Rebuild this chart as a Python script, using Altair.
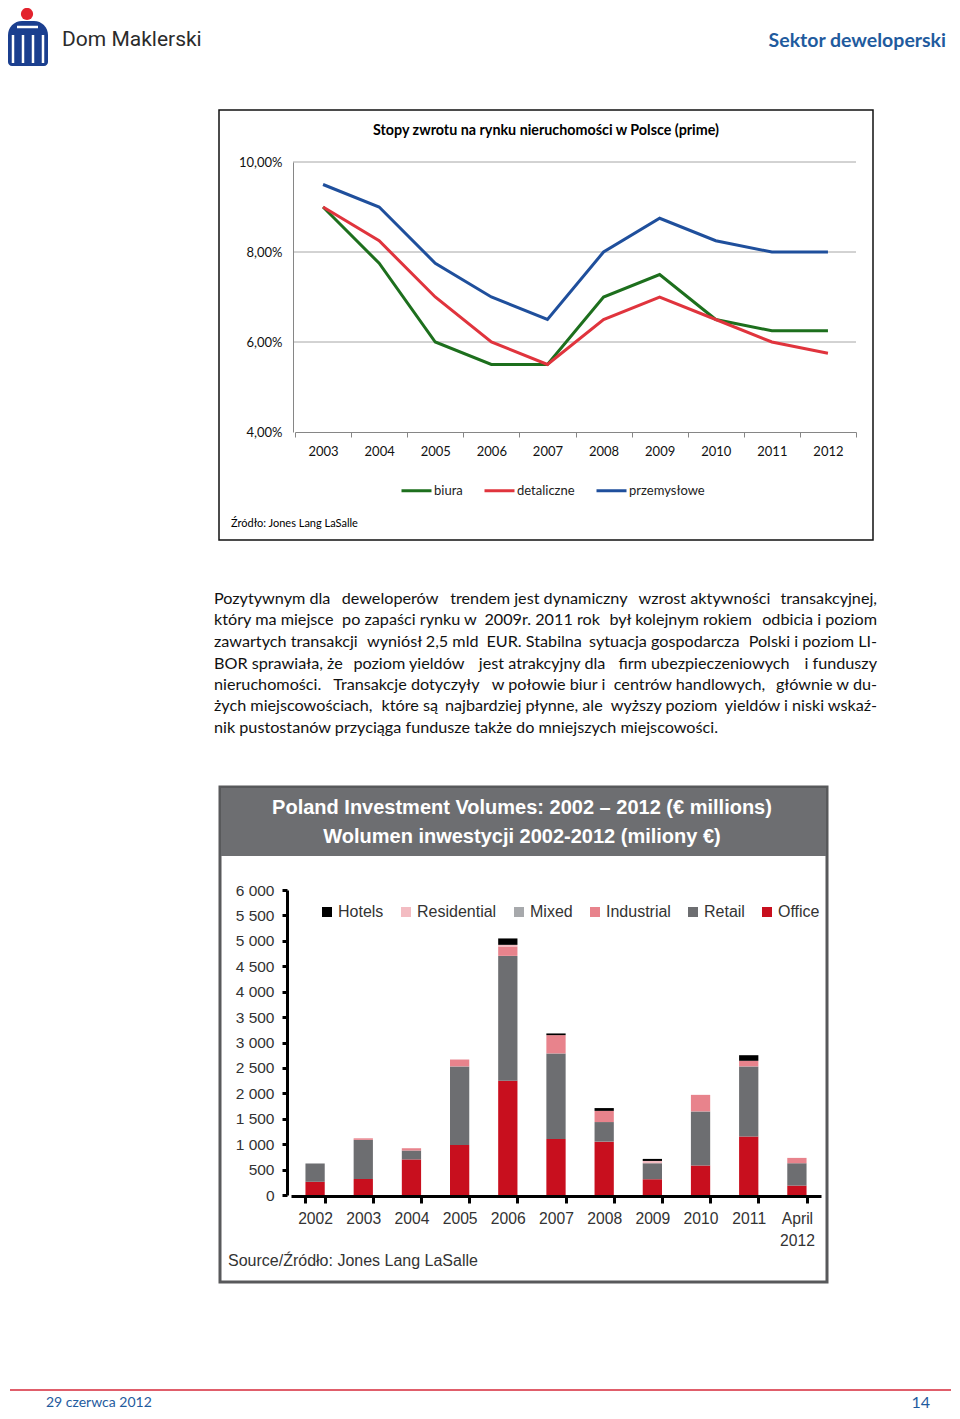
import altair as alt
import pandas as pd

# ---------------- data ----------------
line_years = ["2003", "2004", "2005", "2006", "2007", "2008", "2009", "2010", "2011", "2012"]
line_series = ["biura", "detaliczne", "przemysłowe"]
biura = [9.0, 7.75, 6.0, 5.5, 5.5, 7.0, 7.5, 6.5, 6.25, 6.25]
detaliczne = [9.0, 8.25, 7.0, 6.0, 5.5, 6.5, 7.0, 6.5, 6.0, 5.75]
przemyslowe = [9.5, 9.0, 7.75, 7.0, 6.5, 8.0, 8.75, 8.25, 8.0, 8.0]
line_ticks = [4, 6, 8, 10]
line_grid = [6, 8, 10]

bar_years = ["2002", "2003", "2004", "2005", "2006", "2007", "2008", "2009", "2010", "2011", "April 2012"]
bar_categories = ["Hotels", "Residential", "Mixed", "Industrial", "Retail", "Office"]
stack_order = ["Office", "Retail", "Industrial", "Mixed", "Residential", "Hotels"]
office = [260, 315, 700, 985, 2250, 1100, 1050, 310, 580, 1150, 185]
retail = [360, 770, 175, 1545, 2454, 1685, 385, 315, 1065, 1380, 440]
industrial = [0, 30, 45, 135, 185, 360, 220, 0, 325, 110, 105]
mixed = [0, 0, 0, 0, 0, 0, 0, 0, 0, 0, 0]
residential = [0, 0, 0, 0, 32, 0, 0, 45, 0, 0, 0]
hotels = [0, 0, 0, 0, 126, 33, 55, 40, 0, 110, 0]
bar_ticks = [0, 500, 1000, 1500, 2000, 2500, 3000, 3500, 4000, 4500, 5000, 5500, 6000]

paragraph = [
    "Pozytywnym dla deweloperów trendem jest dynamiczny wzrost aktywności transakcyjnej,",
    "który ma miejsce po zapaści rynku w 2009r. 2011 rok był kolejnym rokiem odbicia i poziom",
    "zawartych transakcji wyniósł 2,5 mld EUR. Stabilna sytuacja gospodarcza Polski i poziom LI-",
    "BOR sprawiała, że poziom yieldów jest atrakcyjny dla firm ubezpieczeniowych i funduszy",
    "nieruchomości. Transakcje dotyczyły w połowie biur i centrów handlowych, głównie w du-",
    "żych miejscowościach, które są najbardziej płynne, ale wyższy poziom yieldów i niski wskaź-",
    "nik pustostanów przyciąga fundusze także do mniejszych miejscowości.",
]

# ---------------- styles / layout ----------------
LATO = "Lato, 'Open Sans', sans-serif"
ARIAL = "'Liberation Sans', Arial, sans-serif"
line_colors = ["#1d6f1d", "#e0343d", "#1f4f9c"]
bar_colors = ["#000000", "#f3bcc2", "#a7a9ac", "#e8838c", "#6d6e71", "#c80f1e"]
BLUE = "#1f5b9e"

W, H = 944, 1403
one = pd.DataFrame({"k": [0]})

# rough relative glyph widths (em) used only to spread the justified paragraph lines
GLYPH = {" ": .19, "a": .50, "b": .56, "c": .46, "d": .56, "e": .52, "f": .31, "g": .50, "h": .56, "i": .23,
         "j": .23, "k": .49, "l": .23, "m": .84, "n": .56, "o": .56, "p": .56, "r": .35, "s": .42, "t": .33,
         "u": .56, "w": .76, "y": .50, "z": .44, "ą": .50, "ć": .46, "ę": .52, "ł": .25, "ń": .56, "ó": .56,
         "ś": .42, "ź": .44, "ż": .44, ",": .21, ".": .21, "-": .33, "P": .59, "B": .62, "E": .55, "O": .74,
         "R": .60, "S": .52, "T": .56, "L": .49, "I": .27, "U": .68}


def est_width(s):
    return sum(GLYPH.get(ch, .58) for ch in s)


def T(t, x, y, size, color="#000000", align="left", weight="normal", font=LATO, baseline="middle"):
    return alt.Chart(pd.DataFrame({"t": [t]})).mark_text(
        align=align, baseline=baseline, fontSize=size, font=font, fontWeight=weight, color=color
    ).encode(x=alt.value(x - 8), y=alt.value(y - 8), text="t:N")


def R(x1, y1, x2, y2, **kw):
    return alt.Chart(one).mark_rect(**kw).encode(
        x=alt.value(x1 - 8), x2=alt.value(x2 - 8), y=alt.value(y1 - 8), y2=alt.value(y2 - 8)
    )


def L(x1, y1, x2, y2, color, w):
    return alt.Chart(one).mark_rule(color=color, strokeWidth=w).encode(
        x=alt.value(x1 - 8), x2=alt.value(x2 - 8), y=alt.value(y1 - 8), y2=alt.value(y2 - 8)
    )


def justified(line, y, nat_end, size, k=5, left=214, right=877):
    """Approximate a justified line: split into k word groups and spread the spare room between them."""
    words = line.split(" ")
    total = est_width(line)
    cuts = []
    for j in range(1, k):
        cands = [(abs(est_width(" ".join(words[:i]) + " ") - total * j / k), i) for i in range(1, len(words))]
        c = min(cands)[1]
        if (not cuts or c > cuts[-1]) and c < len(words):
            cuts.append(c)
    bounds = [0] + cuts + [len(words)]
    chunks = [" ".join(words[a:b]) for a, b in zip(bounds[:-1], bounds[1:])]
    slack = right - nat_end
    n = len(chunks)
    out = []
    for j, ch in enumerate(chunks):
        if j == 0:
            out.append(T(ch, left, y, size, color="#111111"))
        elif j == n - 1:
            out.append(T(ch, right, y, size, color="#111111", align="right"))
        else:
            prefix = " ".join(words[:bounds[j]]) + " "
            xs = left + (nat_end - left) * est_width(prefix) / total + slack * j / (n - 1)
            out.append(T(ch, xs, y, size, color="#111111"))
    return out


# ---------------- header / decorations ----------------
decor = [
    # logo
    alt.Chart(one).mark_circle(color="#e3222d", opacity=1, size=150).encode(x=alt.value(27 - 8), y=alt.value(14 - 8)),
    R(8, 21, 48, 66, color="#1b3f8f", cornerRadiusTopLeft=14, cornerRadiusTopRight=14, cornerRadiusBottomLeft=4, cornerRadiusBottomRight=4),
    L(17, 27, 38, 27, "#ffffff", 2.5),
    L(13, 35, 13, 63, "#ffffff", 2.5),
    L(23, 35, 23, 63, "#ffffff", 2.5),
    L(33, 35, 33, 63, "#ffffff", 2.5),
    L(43, 35, 43, 63, "#ffffff", 2.5),
    T("Dom Maklerski", 62, 40, 21, color="#2b2b2b", font="Roboto, sans-serif"),
    T("Sektor deweloperski", 946, 41, 19.5, color=BLUE, align="right", weight="bold"),
    # line chart box
    R(219, 110, 873, 540, fillOpacity=0, stroke="#111111", strokeWidth=1.5),
    T("Stopy  zwrotu na rynku nieruchomości w Polsce (prime)", 546, 131, 14.3, weight="bold", align="center"),
    T("Źródło: Jones Lang LaSalle", 231, 524, 11),
    # bar chart frame
    R(220, 787, 827, 1282, fillOpacity=0, stroke="#58595b", strokeWidth=3),
    R(221, 788, 826, 856, color="#6d6e71"),
    T("Poland Investment Volumes: 2002 – 2012 (€ millions)", 522, 808, 20, color="#ffffff", align="center", weight="bold", font=ARIAL),
    T("Wolumen inwestycji 2002-2012 (miliony €)", 522, 837, 20, color="#ffffff", align="center", weight="bold", font=ARIAL),
    T("Source/Źródło: Jones Lang LaSalle", 228, 1261, 16, color="#333333", font=ARIAL),
    # footer
    L(10, 1390, 951, 1390, "#d6283a", 1.5),
    T("29 czerwca 2012", 46, 1403, 14, color=BLUE),
    T("14", 930, 1403, 16, color=BLUE, align="right"),
]

PARA_SIZE = 16.2
para_y = [599, 620, 642, 664, 685, 706, 728]
natural_end = [848, 857, 859, 840, 848, 861]
for k, (line, yy) in enumerate(zip(paragraph, para_y)):
    if k < len(natural_end):
        decor.extend(justified(line, yy, natural_end[k], PARA_SIZE))
    else:
        decor.append(T(line, 214, yy, PARA_SIZE, color="#111111"))

# ---------------- line chart ----------------
line_df = pd.DataFrame({
    "rok": line_years * 3,
    "seria": [line_series[0]] * 10 + [line_series[1]] * 10 + [line_series[2]] * 10,
    "stopa": biura + detaliczne + przemyslowe,
})
grid_df = pd.DataFrame({"stopa": line_grid})

ly = alt.Y("stopa:Q", title=None,
           scale=alt.Scale(domain=[4, 10], range=[424, 154], nice=False, zero=False),
           axis=alt.Axis(orient="left", offset=-285, values=line_ticks, ticks=False, domainColor="#868686",
                         labelFont=LATO, labelFontSize=13, labelColor="#111111", labelPadding=11, grid=False,
                         zindex=1, labelExpr="replace(format(datum.value, '.2f'), '.', ',') + '%'"))
grid = alt.Chart(grid_df).mark_rule(color="#a6a6a6", strokeWidth=1).encode(
    y=ly, x=alt.value(285), x2=alt.value(848),
)
lines = alt.Chart(line_df).mark_line(strokeWidth=3).encode(
    x=alt.X("rok:O", bandPosition=0.5, title=None,
            scale=alt.Scale(type="band", domain=line_years, range=[287, 848], paddingInner=0, paddingOuter=0),
            axis=alt.Axis(orient="bottom", offset=-979, tickBand="extent", domainColor="#868686", tickColor="#868686",
                          tickSize=5, labelFont=LATO, labelFontSize=13, labelColor="#111111", labelPadding=8,
                          labelAngle=0, grid=False, zindex=1)),
    y=ly,
    color=alt.Color("seria:N", scale=alt.Scale(domain=line_series, range=line_colors),
                    legend=alt.Legend(orient="none", legendX=392, legendY=466, direction="horizontal", title=None,
                                      symbolType="stroke", symbolSize=900, symbolStrokeWidth=3, labelFont=LATO,
                                      labelFontSize=13, labelColor="#222222", columnPadding=15, labelOffset=1,
                                      padding=0)),
)
line_group = alt.layer(grid, lines)

# ---------------- bar chart ----------------
series = {"Office": office, "Retail": retail, "Industrial": industrial, "Mixed": mixed,
          "Residential": residential, "Hotels": hotels}
rows = []
for cat, vals in series.items():
    for yr, v in zip(bar_years, vals):
        if v > 0:
            rows.append({"rok": yr, "typ": cat, "wartosc": v, "kolejnosc": stack_order.index(cat)})
bar_df = pd.DataFrame(rows)

bars = alt.Chart(bar_df).mark_bar().encode(
    x=alt.X("rok:N", title=None,
            scale=alt.Scale(type="band", domain=bar_years, range=[283, 813], paddingInner=0.6, paddingOuter=0.3),
            axis=alt.Axis(orient="bottom", offset=-215, tickBand="extent", domainColor="#000000", domainWidth=3,
                          tickColor="#000000", tickWidth=3, tickSize=7, labelFont=ARIAL, labelFontSize=15.7,
                          labelColor="#333333", labelPadding=8, labelAngle=0, labelLineHeight=22,
                          labelExpr="split(datum.label, ' ')", grid=False, zindex=1)),
    y=alt.Y("wartosc:Q", stack="zero", title=None,
            scale=alt.Scale(domain=[0, 6000], range=[1187, 882], nice=False),
            axis=alt.Axis(orient="left", offset=-279, values=bar_ticks, domainColor="#000000", domainWidth=3,
                          tickColor="#000000", tickWidth=3, tickSize=5, labelFont=ARIAL, labelFontSize=15.5,
                          labelColor="#333333", labelPadding=8, grid=False, zindex=1,
                          labelExpr="replace(format(datum.value, ','), ',', ' ')")),
    color=alt.Color("typ:N", scale=alt.Scale(domain=bar_categories, range=bar_colors),
                    legend=alt.Legend(orient="none", legendX=311, legendY=896, direction="horizontal", title=None,
                                      symbolType="square", symbolSize=100, symbolStrokeWidth=0, labelFont=ARIAL,
                                      labelFontSize=16, labelColor="#333333", columnPadding=14, labelOffset=3,
                                      padding=0)),
    order=alt.Order("kolejnosc:Q", sort="ascending"),
)

chart = alt.layer(*decor, line_group, bars).resolve_scale(
    x="independent", y="independent", color="independent"
).properties(
    width=W, height=H, padding=0, autosize=alt.AutoSizeParams(type="none"), background="#ffffff"
).configure_view(stroke=None)

chart.save("out.html", embed_options={"renderer": "svg", "actions": False})
